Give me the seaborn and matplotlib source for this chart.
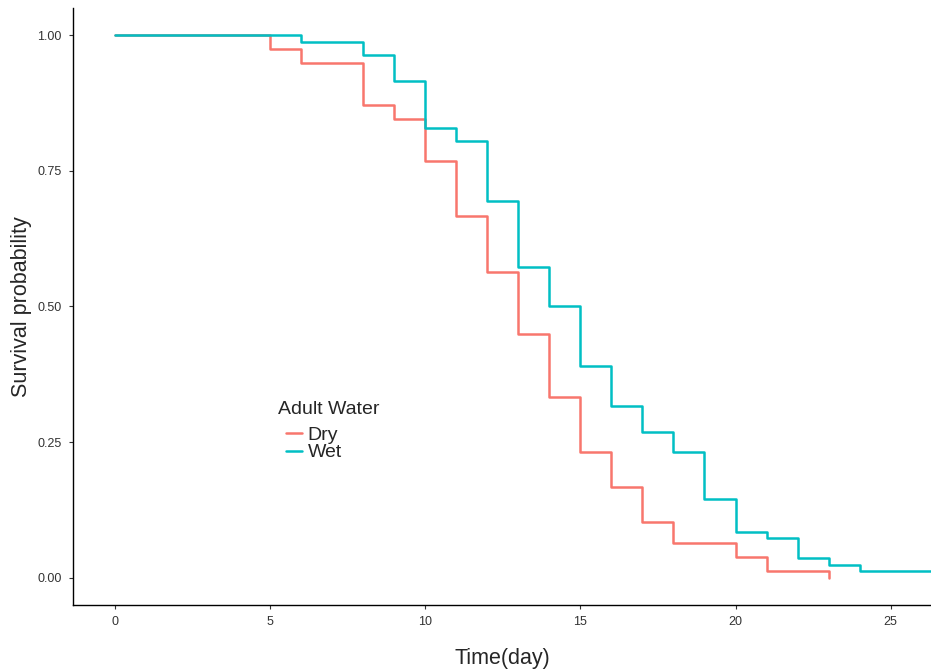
import pandas as pd
import matplotlib.pyplot as plt
import seaborn as sns

# Kaplan-Meier curves
dry_time = [0, 5, 6, 8, 9, 10, 11, 12, 13, 14, 15, 16, 17, 18, 20, 21, 23]
dry_surv = [1.0, 0.974, 0.949, 0.872, 0.846, 0.769, 0.667, 0.564, 0.449,
            0.333, 0.231, 0.167, 0.103, 0.064, 0.038, 0.013, 0.0]
wet_time = [0, 6, 8, 9, 10, 11, 12, 13, 14, 15, 16, 17, 18, 19, 20, 21,
            22, 23, 24, 27]
wet_surv = [1.0, 0.988, 0.963, 0.915, 0.829, 0.805, 0.695, 0.573, 0.500,
            0.390, 0.317, 0.268, 0.232, 0.146, 0.085, 0.073, 0.037, 0.024,
            0.012, 0.012]
groups = ['Dry', 'Wet']
x_ticks = [0, 5, 10, 15, 20, 25]
y_ticks = [0.0, 0.25, 0.5, 0.75, 1.0]

data = pd.concat([
    pd.DataFrame({'time': dry_time, 'surv': dry_surv, 'Adult Water': 'Dry'}),
    pd.DataFrame({'time': wet_time, 'surv': wet_surv, 'Adult Water': 'Wet'}),
])

sns.set_style('white')
plt.rcParams['font.family'] = ['Liberation Sans', 'DejaVu Sans']

fig = plt.figure(figsize=(9.31, 6.70), dpi=100)
ax = fig.add_axes([73 / 931, 65 / 670, 1 - 73 / 931, 1 - 73 / 670])

sns.lineplot(data=data, x='time', y='surv', hue='Adult Water',
             hue_order=groups, palette=['#F8766D', '#00BFC4'],
             drawstyle='steps-post', estimator=None, linewidth=1.8, ax=ax)

ax.set_xlim(-1.35, 26.3)
ax.set_ylim(-0.05, 1.05)
ax.set_xticks(x_ticks)
ax.set_xticklabels([str(t) for t in x_ticks])
ax.set_yticks(y_ticks)
ax.set_yticklabels(['0.00', '0.25', '0.50', '0.75', '1.00'])
ax.tick_params(axis='both', length=3, width=0.8, color='#333333',
               labelsize=9, labelcolor='#333333', direction='out',
               left=True, bottom=True, pad=5)

ax.set_xlabel('Time(day)', fontsize=15.5, labelpad=14)
ax.set_ylabel('Survival probability', fontsize=15.5, labelpad=4)

for side in ['top', 'right']:
    ax.spines[side].set_visible(False)
for side in ['left', 'bottom']:
    ax.spines[side].set_color('black')
    ax.spines[side].set_linewidth(1.0)

leg = ax.legend(title='Adult Water', loc='upper left',
                bbox_to_anchor=(0.239, 0.342), frameon=False,
                fontsize=14, title_fontsize=14, handlelength=0.8,
                handletextpad=0.3, labelspacing=0.0, borderaxespad=0,
                borderpad=0)
leg._legend_box.align = 'left'
leg._legend_box.sep = 0
# indent the keys a little under the title, like ggplot does
leg._legend_handle_box.pad = 6

plt.savefig('out.png', dpi=100)
